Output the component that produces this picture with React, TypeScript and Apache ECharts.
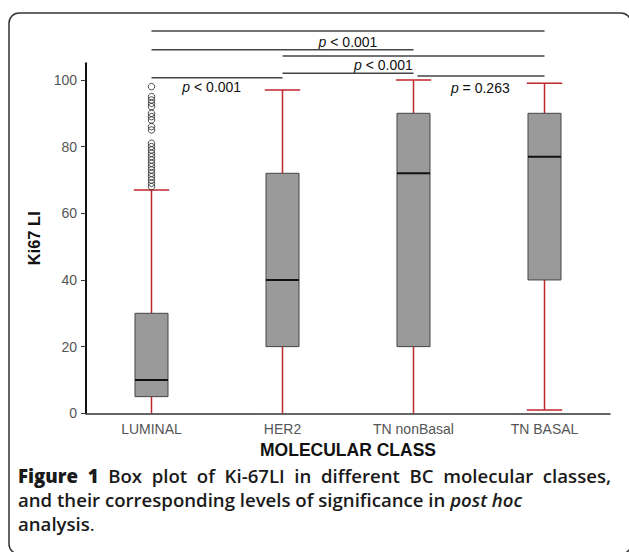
import React, { useEffect, useRef } from "react";
import * as echarts from "echarts";

const categories = ["LUMINAL", "HER2", "TN nonBasal", "TN BASAL"];
const whiskerLow = [0, 0, 0, 1];
const quartile1 = [5, 20, 20, 40];
const medians = [10, 40, 72, 77];
const quartile3 = [30, 72, 90, 90];
const whiskerHigh = [67, 97, 100, 99];
const luminalOutliers = [98, 95, 94, 93, 92, 90, 89, 88, 86, 85, 81, 80, 79, 78, 77, 76, 75, 74, 73, 72, 71, 70, 69, 68];
const yTicks = [0, 20, 40, 60, 80, 100];

const sigFrom = [0, 0, 1, 1, 0, 2.03];
const sigTo = [3, 2, 3, 2, 1, 3];
const sigLevel = [114.7, 109.1, 107.2, 102.0, 100.7, 101.2];
const sigText = ["< 0.001", "", "< 0.001", "", "< 0.001", "= 0.263"];
const sigTextX = [1.5, 0, 1.77, 0, 0.46, 2.51];
const sigTextY = [111.3, 0, 104.4, 0, 97.9, 97.7];

const captionLine1Bold = ["Figure", "1"];
const captionLine1 = ["Box", "plot", "of", "Ki-67LI", "in", "different", "BC", "molecular", "classes,"];
const captionLine2 = "and their corresponding levels of significance in {i|post hoc}";
const captionLine3 = "analysis{n|.}";

const CAP_FONT = "'Open Sans', 'Noto Sans', sans-serif";
const CAP_SIZE = 18.6;

function measure(text: string, weight: number): number {
  const c = document.createElement("canvas").getContext("2d");
  if (!c) return text.length * CAP_SIZE * 0.55;
  c.font = `${weight} ${CAP_SIZE}px 'Open Sans'`;
  return c.measureText(text).width;
}

export default function App() {
  const ref = useRef<HTMLDivElement>(null);
  useEffect(() => {
    if (!ref.current) return;
    const chart = echarts.init(ref.current, null, { renderer: "svg" });
    const red = "#c0262d";
    const font = "Arial, 'Liberation Sans', sans-serif";

    // justified first caption line
    const words = [
      ...captionLine1Bold.map((w) => ({ w, weight: 800 })),
      ...captionLine1.map((w) => ({ w, weight: 600 })),
    ];
    const widths = words.map((o) => measure(o.w, o.weight));
    const total = widths.reduce((s, v) => s + v, 0);
    const left = 18;
    const right = 611;
    const gap = (right - left - total) / (words.length - 1);
    let cx = left;
    const line1Els = words.map((o, k) => {
      const el = {
        type: "text",
        x: cx,
        y: 475,
        style: {
          text: o.w,
          fill: "#1a1a1a",
          fontSize: CAP_SIZE,
          fontWeight: o.weight,
          fontFamily: CAP_FONT,
          verticalAlign: "middle",
        },
      };
      cx += widths[k] + gap;
      return el;
    });
    const rich = {
      i: { fontSize: CAP_SIZE, fontWeight: 600, fontStyle: "italic", fontFamily: CAP_FONT, fill: "#1a1a1a" },
      n: { fontSize: CAP_SIZE, fontWeight: 400, fontFamily: CAP_FONT, fill: "#1a1a1a" },
    };
    const otherLines = [captionLine2, captionLine3].map((t, i) => ({
      type: "text",
      x: 18,
      y: 499 + i * 24,
      style: {
        text: t,
        fill: "#1a1a1a",
        fontSize: CAP_SIZE,
        fontWeight: 600,
        fontFamily: CAP_FONT,
        verticalAlign: "middle",
        rich,
      },
    }));

    chart.setOption({
      animation: false,
      grid: { left: 86, right: 19, top: 63.3, bottom: 138.7 },
      xAxis: {
        type: "category",
        data: categories,
        boundaryGap: true,
        z: 10,
        axisLine: { lineStyle: { color: "#333", width: 1.5 } },
        axisTick: { alignWithLabel: true, length: 4, lineStyle: { color: "#333" } },
        axisLabel: { color: "#555", fontSize: 14, fontFamily: font, margin: 9 },
        name: "MOLECULAR CLASS",
        nameLocation: "middle",
        nameGap: 27,
        nameTextStyle: { color: "#111", fontSize: 17.5, fontWeight: "bold", fontFamily: font },
      },
      yAxis: {
        type: "value",
        min: 0,
        max: 105,
        z: 10,
        splitLine: { show: false },
        axisLine: { show: true, lineStyle: { color: "#111", width: 2 } },
        axisTick: { show: true, length: 5, customValues: yTicks, lineStyle: { color: "#333" } },
        axisLabel: { color: "#555", fontSize: 14, fontFamily: font, margin: 9, customValues: yTicks },
        name: "Ki67 LI",
        nameLocation: "middle",
        nameGap: 36,
        nameTextStyle: { color: "#111", fontSize: 16.5, fontWeight: "bold", fontFamily: font },
      },
      graphic: [
        {
          type: "rect",
          shape: { x: 9, y: 13, width: 622, height: 541, r: 10 },
          style: { fill: "none", stroke: "#333", lineWidth: 1.5 },
          silent: true,
        },
        ...line1Els,
        ...otherLines,
      ],
      series: [
        {
          type: "custom",
          clip: false,
          data: categories.map((_, i) => [i, whiskerLow[i], quartile1[i], medians[i], quartile3[i], whiskerHigh[i]]),
          encode: { x: 0, y: [1, 2, 3, 4, 5] },
          renderItem: (params: any, api: any) => {
            const i = api.value(0);
            const band = api.size([1, 0])[0];
            const bw = band * 0.252;
            const cw = band * 0.27;
            const lo = api.coord([i, api.value(1)]);
            const q1 = api.coord([i, api.value(2)]);
            const md = api.coord([i, api.value(3)]);
            const q3 = api.coord([i, api.value(4)]);
            const hi = api.coord([i, api.value(5)]);
            const x = lo[0];
            const ls = { stroke: red, lineWidth: 1.5 };
            const children: any[] = [
              { type: "line", shape: { x1: x, y1: hi[1], x2: x, y2: q3[1] }, style: ls },
              { type: "line", shape: { x1: x - cw / 2, y1: hi[1], x2: x + cw / 2, y2: hi[1] }, style: ls },
              { type: "line", shape: { x1: x, y1: lo[1], x2: x, y2: q1[1] }, style: ls },
            ];
            if (api.value(1) > 0) {
              children.push({ type: "line", shape: { x1: x - cw / 2, y1: lo[1], x2: x + cw / 2, y2: lo[1] }, style: ls });
            }
            children.push(
              {
                type: "rect",
                shape: { x: x - bw / 2, y: q3[1], width: bw, height: q1[1] - q3[1] },
                style: { fill: "#9a9a9a", stroke: "#444", lineWidth: 1 },
              },
              { type: "line", shape: { x1: x - bw / 2, y1: md[1], x2: x + bw / 2, y2: md[1] }, style: { stroke: "#111", lineWidth: 2 } }
            );
            return { type: "group", children };
          },
        },
        {
          type: "scatter",
          data: luminalOutliers.map((v) => [0, v]),
          symbol: "circle",
          symbolSize: 6.5,
          itemStyle: { color: "rgba(0,0,0,0)", borderColor: "#222", borderWidth: 1 },
        },
        {
          type: "custom",
          clip: false,
          data: sigLevel.map((y, i) => [sigFrom[i], sigTo[i], y]),
          encode: { x: [0, 1], y: 2 },
          renderItem: (params: any, api: any) => {
            const k = params.dataIndex;
            const band = api.size([1, 0])[0];
            const px = (v: number, y: number) => {
              const f = Math.floor(v);
              const p = api.coord([f, y]);
              return [p[0] + (v - f) * band, p[1]];
            };
            const a = px(sigFrom[k], api.value(2));
            const b = px(sigTo[k], api.value(2));
            const children: any[] = [
              { type: "line", shape: { x1: a[0], y1: a[1], x2: b[0], y2: b[1] }, style: { stroke: "#444", lineWidth: 1.5 } },
            ];
            if (sigText[k]) {
              const t = px(sigTextX[k], sigTextY[k]);
              children.push({
                type: "text",
                x: t[0],
                y: t[1],
                style: {
                  text: "{i|p} " + sigText[k],
                  align: "center",
                  verticalAlign: "middle",
                  fill: "#111",
                  fontSize: 14,
                  fontFamily: font,
                  rich: { i: { fontStyle: "italic", fontSize: 14, fontFamily: font, fill: "#111" } },
                },
              });
            }
            return { type: "group", children };
          },
        },
      ],
    });
    return () => chart.dispose();
  }, []);
  return <div ref={ref} style={{ position: "absolute", left: 0, top: 0, width: 629, height: 552 }} />;
}
